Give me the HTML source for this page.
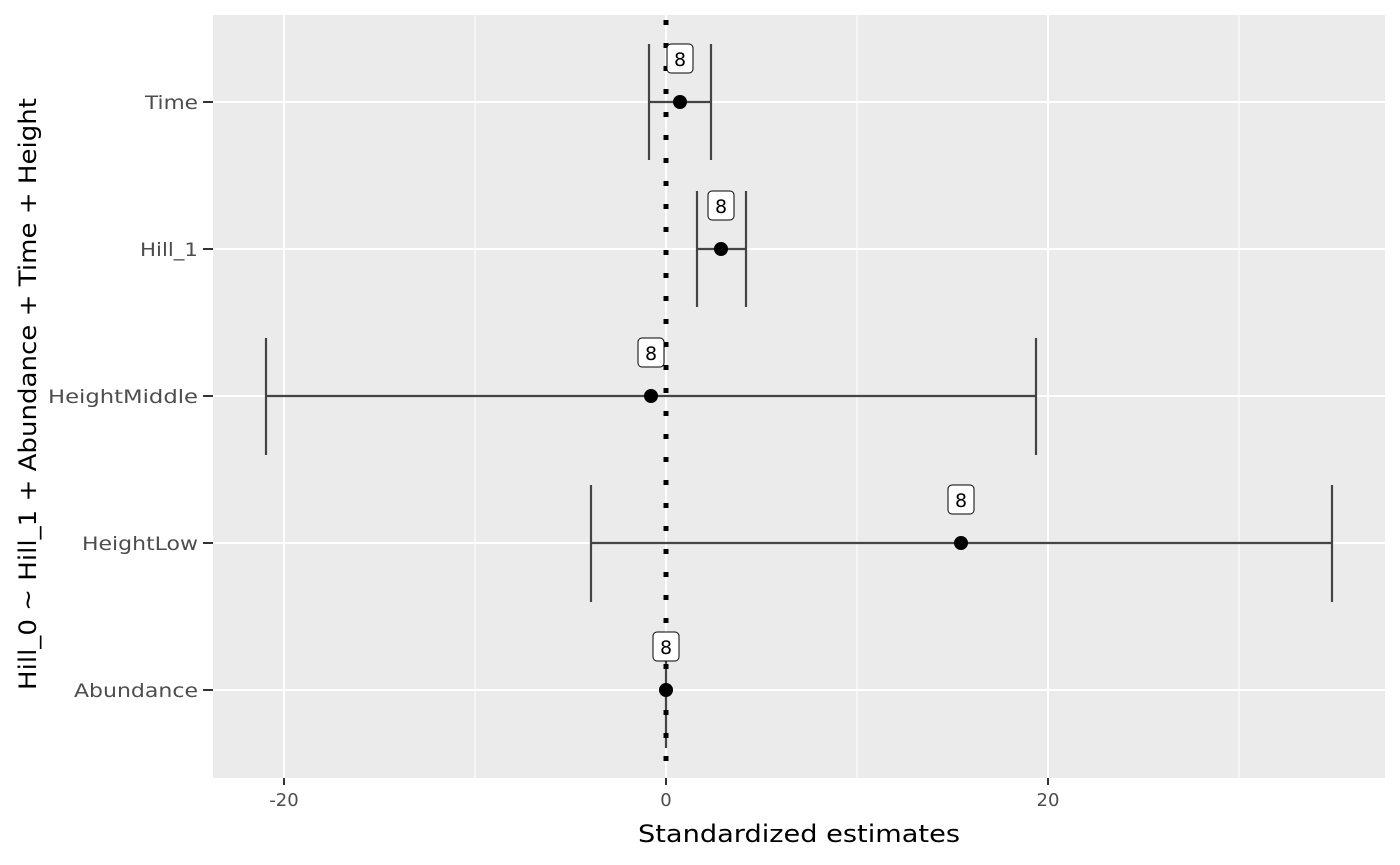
<!DOCTYPE html>
<html><head><style>body{margin:0;background:#fff}svg{display:block}</style></head><body>
<svg width="1400" height="865" xmlns="http://www.w3.org/2000/svg" font-family="'DejaVu Sans','Liberation Sans',sans-serif">
<rect x="213" y="15" width="1172" height="763" fill="#ebebeb"/>
<g stroke="#fff" stroke-width="1">
<line x1="475" y1="15" x2="475" y2="778"/><line x1="857" y1="15" x2="857" y2="778"/><line x1="1239" y1="15" x2="1239" y2="778"/>
</g>
<g stroke="#fff" stroke-width="2">
<line x1="284" y1="15" x2="284" y2="778"/><line x1="666" y1="15" x2="666" y2="778"/><line x1="1048" y1="15" x2="1048" y2="778"/>
<line x1="213" y1="102" x2="1385" y2="102"/><line x1="213" y1="249" x2="1385" y2="249"/><line x1="213" y1="396" x2="1385" y2="396"/><line x1="213" y1="543" x2="1385" y2="543"/><line x1="213" y1="690" x2="1385" y2="690"/>
</g>
<g stroke="#444" stroke-width="2.2" fill="none">
<path d="M649 44V160M711 44V160M649 102H711"/>
<path d="M697 191V307M746 191V307M697 249H746"/>
<path d="M266 338V455M1036 338V455M266 396H1036"/>
<path d="M591 485V602M1332 485V602M591 543H1332"/>
<path d="M666 633V748"/>
</g>
<line x1="666" y1="20" x2="666" y2="778" stroke="#000" stroke-width="5" stroke-dasharray="5 18"/>
<g fill="#000"><circle cx="680" cy="102" r="7"/><circle cx="721" cy="249" r="7"/><circle cx="651" cy="396" r="7"/><circle cx="961" cy="543" r="7"/><circle cx="666" cy="690" r="7"/></g>
<g font-size="19" text-anchor="middle">
<rect x="667" y="44" width="26" height="29" rx="4" fill="#fff" stroke="#000"/><text x="680" y="66">8</text>
<rect x="708" y="191" width="26" height="29" rx="4" fill="#fff" stroke="#000"/><text x="721" y="213">8</text>
<rect x="638" y="338" width="26" height="29" rx="4" fill="#fff" stroke="#000"/><text x="651" y="360">8</text>
<rect x="948" y="485" width="26" height="29" rx="4" fill="#fff" stroke="#000"/><text x="961" y="507">8</text>
<rect x="653" y="632" width="26" height="29" rx="4" fill="#fff" stroke="#000"/><text x="666" y="654">8</text>
</g>
<g stroke="#333" stroke-width="2"><path d="M203 102H213M203 249H213M203 396H213M203 543H213M203 690H213M284 778V785M666 778V785M1048 778V785"/></g>
<g font-size="19" fill="#4d4d4d" text-anchor="end" lengthAdjust="spacingAndGlyphs">
<text x="198" y="109" textLength="53" lengthAdjust="spacingAndGlyphs">Time</text><text x="198" y="256" textLength="58" lengthAdjust="spacingAndGlyphs">Hill_1</text><text x="198" y="403" textLength="150" lengthAdjust="spacingAndGlyphs">HeightMiddle</text><text x="198" y="550" textLength="116" lengthAdjust="spacingAndGlyphs">HeightLow</text><text x="198" y="697" textLength="124" lengthAdjust="spacingAndGlyphs">Abundance</text>
</g>
<g font-size="18" fill="#4d4d4d" text-anchor="middle"><text x="284" y="806">-20</text><text x="666" y="806">0</text><text x="1048" y="806">20</text></g>
<text x="638" y="842" font-size="24" textLength="322" lengthAdjust="spacingAndGlyphs">Standardized estimates</text>
<text transform="translate(36,690) rotate(-90)" font-size="24" textLength="592" lengthAdjust="spacingAndGlyphs">Hill_0 ~ Hill_1 + Abundance + Time + Height</text>
</svg>
</body></html>
